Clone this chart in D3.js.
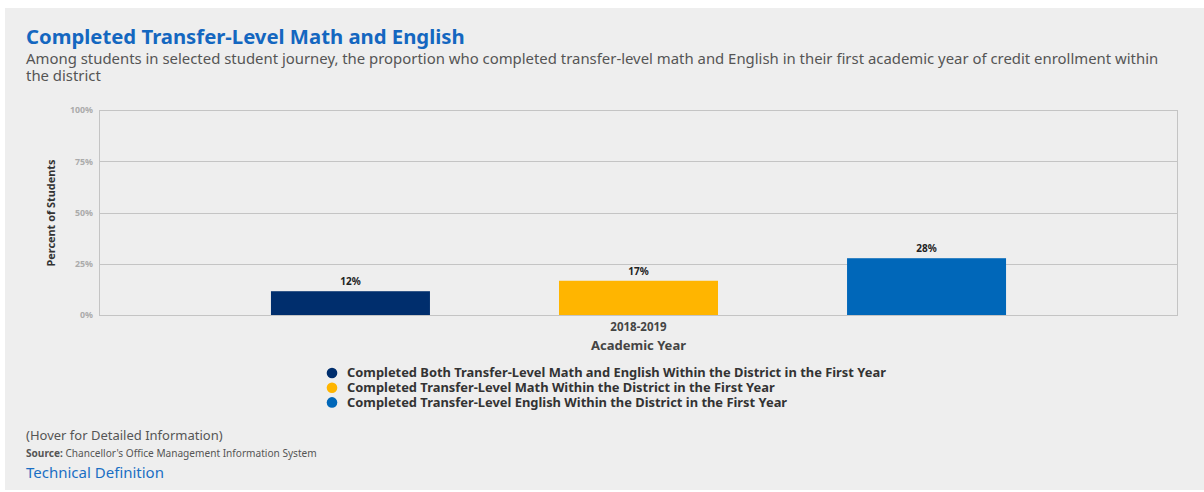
<!DOCTYPE html>
<html><head><meta charset="utf-8">
<script src="https://cdn.jsdelivr.net/npm/d3@7"></script>
<style>
html,body{margin:0;padding:0;background:#fff;}
svg{display:block;}
</style></head>
<body>
<svg id="c" width="1204" height="492"></svg>
<script>
const categories = ["2018-2019"];
const seriesNames = [
  "Completed Both Transfer-Level Math and English Within the District in the First Year",
  "Completed Transfer-Level Math Within the District in the First Year",
  "Completed Transfer-Level English Within the District in the First Year"
];
const seriesValues = [0.116, 0.167, 0.277];
const valueLabels = ["12%", "17%", "28%"];
const seriesColors = ["#002e6d", "#ffb500", "#0067b9"];
const yTicks = [0, 0.25, 0.5, 0.75, 1];
const yTickLabels = ["0%", "25%", "50%", "75%", "100%"];

const svg = d3.select("#c");
const FONT = "'Noto Sans', 'Open Sans', sans-serif";

// panel
svg.append("rect").attr("x", 5).attr("y", 8).attr("width", 1204).attr("height", 482).attr("fill", "#eeeeee");

// title & subtitle
svg.append("text").attr("x", 26).attr("y", 44).attr("font-family", FONT).attr("font-weight", 700)
  .attr("font-size", 20.3).attr("fill", "#1467c0").text("Completed Transfer-Level Math and English");
svg.append("text").attr("x", 26).attr("y", 64).attr("font-family", FONT).attr("font-size", 14.9).attr("fill", "#555")
  .text("Among students in selected student journey, the proportion who completed transfer-level math and English in their first academic year of credit enrollment within");
svg.append("text").attr("x", 26).attr("y", 81).attr("font-family", FONT).attr("font-size", 14.9).attr("fill", "#555")
  .text("the district");

const m = {left: 99, right: 1178, top: 110, bottom: 315};
const x0 = d3.scaleBand().domain(categories).range([m.left, m.right]).padding(0);
const x1 = d3.scaleBand().domain(d3.range(seriesNames.length))
  .range([0, x0.bandwidth()]).paddingInner(0.448).paddingOuter(0.597);
const y = d3.scaleLinear().domain([0, 1]).range([m.bottom, m.top]);

// gridlines
const g = svg.append("g");
g.selectAll("line.grid").data(yTicks).enter().append("line")
  .attr("x1", m.left).attr("x2", m.right)
  .attr("y1", d => Math.round(y(d)) + 0.5).attr("y2", d => Math.round(y(d)) + 0.5)
  .attr("stroke", "#c4c4c4").attr("stroke-width", 1);
g.append("line").attr("x1", m.left + 0.5).attr("x2", m.left + 0.5).attr("y1", m.top).attr("y2", m.bottom)
  .attr("stroke", "#c4c4c4");
g.append("line").attr("x1", m.right - 0.5).attr("x2", m.right - 0.5).attr("y1", m.top).attr("y2", m.bottom)
  .attr("stroke", "#c4c4c4");

// y axis labels
const yAxis = d3.axisLeft(y).tickValues(yTicks).tickFormat((d, i) => yTickLabels[i]).tickSize(0).tickPadding(6);
const ya = svg.append("g").attr("transform", `translate(${m.left},0)`).call(yAxis);
ya.select(".domain").remove();
ya.selectAll("text").attr("font-family", FONT).attr("font-size", 8.8).attr("font-weight", 700).attr("fill", "#ababab");

svg.append("text").attr("transform", "translate(55,213) rotate(-90)").attr("text-anchor", "middle")
  .attr("font-family", FONT).attr("font-weight", 700).attr("font-size", 10.9).attr("fill", "#333")
  .text("Percent of Students");

// bars
const cat = categories[0];
svg.selectAll("rect.bar").data(seriesValues).enter().append("rect")
  .attr("x", (d, i) => x0(cat) + x1(i)).attr("width", x1.bandwidth())
  .attr("y", d => y(d)).attr("height", d => y(0) - y(d))
  .attr("fill", (d, i) => seriesColors[i]);

svg.selectAll("text.vl").data(seriesValues).enter().append("text")
  .attr("x", (d, i) => x0(cat) + x1(i) + x1.bandwidth() / 2).attr("y", d => y(d) - 6)
  .attr("text-anchor", "middle").attr("font-family", FONT).attr("font-weight", 700).attr("font-size", 10).attr("fill", "#222")
  .text((d, i) => valueLabels[i]);

// x axis
const xAxis = d3.axisBottom(x0).tickSize(0).tickPadding(8);
const xa = svg.append("g").attr("transform", `translate(0,${m.bottom})`).call(xAxis);
xa.select(".domain").remove();
xa.selectAll("text").attr("font-family", FONT).attr("font-size", 11.5).attr("font-weight", 700).attr("fill", "#444");

svg.append("text").attr("x", x0(cat) + x0.bandwidth() / 2).attr("y", 350).attr("text-anchor", "middle")
  .attr("font-family", FONT).attr("font-weight", 700).attr("font-size", 13).attr("fill", "#444").text("Academic Year");

// legend
const lg = svg.append("g");
seriesNames.forEach((n, i) => {
  const yy = 373 + i * 14.7;
  lg.append("circle").attr("cx", 332).attr("cy", yy).attr("r", 5.3).attr("fill", seriesColors[i]);
  lg.append("text").attr("x", 347).attr("y", yy + 4.3).attr("font-family", FONT).attr("font-weight", 700)
    .attr("font-size", 12.9).attr("fill", "#333").text(n);
});

// footer
svg.append("text").attr("x", 26).attr("y", 440).attr("font-family", FONT).attr("font-size", 13).attr("fill", "#555")
  .text("(Hover for Detailed Information)");
const src = svg.append("text").attr("x", 26).attr("y", 457).attr("font-family", FONT).attr("font-size", 10.1).attr("fill", "#555");
src.append("tspan").attr("font-weight", 700).text("Source:");
src.append("tspan").text(" Chancellor's Office Management Information System");
svg.append("text").attr("x", 26).attr("y", 478).attr("font-family", FONT).attr("font-size", 15).attr("fill", "#1a6fc4")
  .text("Technical Definition");
</script>
</body></html>
